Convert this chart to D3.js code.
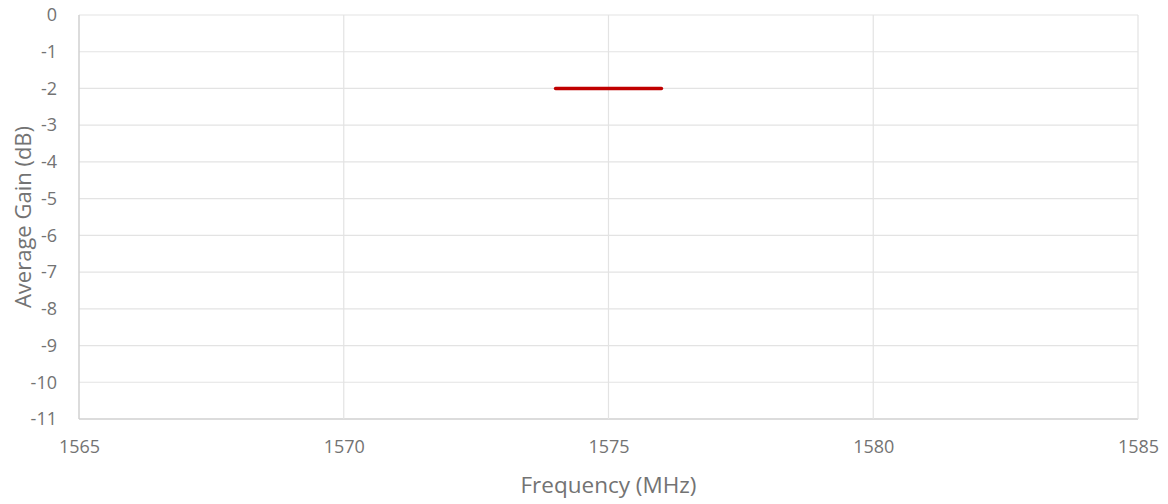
<!DOCTYPE html>
<html>
<head>
<meta charset="utf-8">
<script src="https://cdn.jsdelivr.net/npm/d3@7"></script>
<style>
  body { margin: 0; background: #fff; }
  text { font-family: "Open Sans", "Noto Sans", sans-serif; fill: #737373; }
</style>
</head>
<body>
<svg id="chart" width="1168" height="504"></svg>
<script>
// Data
const frequency = [1574, 1575, 1576];
const avgGain = [-2, -2, -2];
const xTicks = [1565, 1570, 1575, 1580, 1585];
const yTicks = [0, -1, -2, -3, -4, -5, -6, -7, -8, -9, -10, -11];

const margin = { top: 15, right: 30, bottom: 85, left: 79 };
const width = 1168, height = 504;
const svg = d3.select("#chart");

const x = d3.scaleLinear().domain([1565, 1585]).range([margin.left, width - margin.right]);
const y = d3.scaleLinear().domain([-11, 0]).range([height - margin.bottom, margin.top]);

// Grid lines
svg.append("g")
  .selectAll("line")
  .data(yTicks)
  .join("line")
  .attr("x1", margin.left).attr("x2", width - margin.right)
  .attr("y1", d => y(d)).attr("y2", d => y(d))
  .attr("stroke", d => d === -11 ? "#d0d0d0" : "#e3e3e3")
  .attr("stroke-width", d => d === -11 ? 1.5 : 1.2);

svg.append("g")
  .selectAll("line")
  .data(xTicks)
  .join("line")
  .attr("x1", d => x(d)).attr("x2", d => x(d))
  .attr("y1", margin.top).attr("y2", height - margin.bottom)
  .attr("stroke", d => d === 1565 ? "#d0d0d0" : "#e3e3e3")
  .attr("stroke-width", d => d === 1565 ? 1.5 : 1.2);

// Tick labels via d3 axes (domain and tick marks hidden)
const yAxis = svg.append("g")
  .attr("transform", `translate(${margin.left},0)`)
  .call(d3.axisLeft(y).tickValues(yTicks).tickSize(0).tickPadding(22).tickFormat(d => String(d)));
yAxis.select(".domain").remove();
yAxis.attr("font-size", 18).attr("font-family", "'Open Sans', sans-serif");
yAxis.selectAll("text").attr("fill", "#737373");

const xAxis = svg.append("g")
  .attr("transform", `translate(0,${height - margin.bottom})`)
  .call(d3.axisBottom(x).tickValues(xTicks).tickSize(0).tickPadding(21).tickFormat(d => String(d)));
xAxis.select(".domain").remove();
xAxis.attr("font-size", 18).attr("font-family", "'Open Sans', sans-serif");
xAxis.selectAll("text").attr("fill", "#737373");

// Axis titles
svg.append("text")
  .attr("x", (margin.left + width - margin.right) / 2)
  .attr("y", 493)
  .attr("text-anchor", "middle")
  .attr("font-size", 22.5)
  .text("Frequency (MHz)");

svg.append("text")
  .attr("transform", `translate(31,${(margin.top + height - margin.bottom) / 2}) rotate(-90)`)
  .attr("text-anchor", "middle")
  .attr("font-size", 22)
  .text("Average Gain (dB)");

// Series line
const line = d3.line().x((d, i) => x(frequency[i])).y(d => y(d));
svg.append("path")
  .datum(avgGain)
  .attr("d", line)
  .attr("fill", "none")
  .attr("stroke", "#c00000")
  .attr("stroke-width", 3.5)
  .attr("stroke-linecap", "round");
</script>
</body>
</html>
